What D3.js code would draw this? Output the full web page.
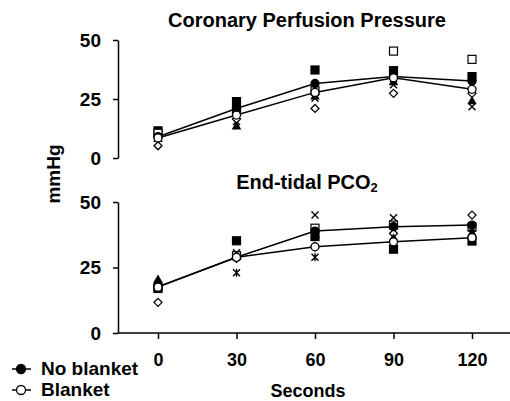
<!DOCTYPE html>
<html>
<head>
<meta charset="utf-8">
<script src="https://cdnjs.cloudflare.com/ajax/libs/d3/7.8.5/d3.min.js"></script>
<style>
body { margin: 0; background: #fff; }
text { font-family: "Liberation Sans", Arial, sans-serif; font-weight: bold; fill: #000; }
.axis path, .axis line { stroke: #000; stroke-width: 1.5px; }
.axis text { font-size: 18px; font-family: "Liberation Sans", Arial, sans-serif; font-weight: bold; }
</style>
</head>
<body>
<svg id="chart" width="510" height="401"></svg>
<script>
// time points (seconds)
var seconds = [0, 30, 60, 90, 120];
var yTicks = [0, 25, 50];

// Coronary perfusion pressure (mmHg)
var cppNoBlanket = [9, 21, 31.6, 34.5, 32.6];
var cppBlanket   = [8.5, 18.2, 27.8, 34, 29.1];
var cppIndividuals = [
  {shape: "squareFilled", values: [11.5, 23.9, 37.3, 37, 34.5]},
  {shape: "squareOpen",   values: [10.5, 20, 28.5, 45.3, 41.8]},
  {shape: "triangle",     values: [8, 13.3, 26, 32, 23.9]},
  {shape: "cross",        values: [9, 15.5, 25.3, 31, 21.7]},
  {shape: "diamond",      values: [5.2, 16.5, 21, 27.4, 27.4]}
];

// End-tidal PCO2 (mmHg)
var etNoBlanket = [17.7, 28.9, 38.9, 40.6, 41.2];
var etBlanket   = [17.5, 28.9, 32.9, 34.8, 36.4];
var etIndividuals = [
  {shape: "squareFilled", values: [17, 35.2, 36.8, 32, 35.1]},
  {shape: "squareOpen",   values: [17.5, 29.5, 40, 41.2, 40.5]},
  {shape: "cross",        values: [18, 30.6, 45, 44, 40]},
  {shape: "asterisk",     values: [18, 23, 28.9, 37, 38]},
  {shape: "diamond",      values: [11.7, 28.5, 33, 38, 45]},
  {shape: "triangle",     values: [20.2, 29, 37.5, 36, 38]}
];

var svg = d3.select("#chart");
var axisX = 118;

var x = d3.scaleLinear().domain([0, 120]).range([158, 472]);
var yTop = d3.scaleLinear().domain([0, 50]).range([158, 40]);
var yBot = d3.scaleLinear().domain([0, 50]).range([333, 202]);

function marker(g, shape, cx, cy) {
  var s;
  if (shape == "squareFilled" || shape == "squareOpen") {
    g.append("rect").attr("x", cx - 4).attr("y", cy - 4).attr("width", 8).attr("height", 8)
      .attr("fill", shape == "squareFilled" ? "#000" : "#fff").attr("stroke", "#000").attr("stroke-width", 1.2);
  } else if (shape == "triangle") {
    s = d3.symbol().type(d3.symbolTriangle).size(40);
    g.append("path").attr("d", s()).attr("transform", "translate(" + cx + "," + cy + ")").attr("fill", "#000");
  } else if (shape == "diamond") {
    g.append("path").attr("d", "M0,-4L4,0L0,4L-4,0Z").attr("transform", "translate(" + cx + "," + cy + ")")
      .attr("fill", "#fff").attr("stroke", "#000").attr("stroke-width", 1.3);
  } else if (shape == "cross") {
    g.append("path").attr("d", "M-3.5,-3.5L3.5,3.5M-3.5,3.5L3.5,-3.5").attr("transform", "translate(" + cx + "," + cy + ")")
      .attr("stroke", "#000").attr("stroke-width", 1.4);
  } else if (shape == "asterisk") {
    g.append("path").attr("d", "M-3.5,-3.5L3.5,3.5M-3.5,3.5L3.5,-3.5M0,-4L0,4").attr("transform", "translate(" + cx + "," + cy + ")")
      .attr("stroke", "#000").attr("stroke-width", 1.4);
  }
}

function panel(y, noBlanket, blanket, individuals, title, sub) {
  var g = svg.append("g");

  individuals.forEach(function(ind) {
    ind.values.forEach(function(v, i) { marker(g, ind.shape, x(seconds[i]), y(v)); });
  });

  var line = d3.line().x(function(d, i) { return x(seconds[i]); }).y(function(d) { return y(d); });
  [noBlanket, blanket].forEach(function(series, k) {
    g.append("path").attr("d", line(series)).attr("fill", "none").attr("stroke", "#000").attr("stroke-width", 1.5);
    g.selectAll(null).data(series).enter().append("circle")
      .attr("cx", function(d, i) { return x(seconds[i]); })
      .attr("cy", function(d) { return y(d); })
      .attr("r", 4)
      .attr("fill", k == 0 ? "#000" : "#fff")
      .attr("stroke", "#000").attr("stroke-width", 1.3);
  });

  var ax = svg.append("g").attr("class", "axis").attr("transform", "translate(" + axisX + ",0)")
    .call(d3.axisLeft(y).tickValues(yTicks).tickSize(5).tickSizeOuter(0).tickPadding(12));
  ax.selectAll("text").style("font-size", "19px");

  var t = svg.append("text").attr("x", 307).attr("y", y.range()[1] - 13)
    .attr("text-anchor", "middle").style("font-size", "20px").text(title);
  if (sub) t.append("tspan").attr("dy", 3).style("font-size", "13px").text(sub);
}

panel(yTop, cppNoBlanket, cppBlanket, cppIndividuals, "Coronary Perfusion Pressure");
panel(yBot, etNoBlanket, etBlanket, etIndividuals, "End-tidal PCO", "2");

// x axis (bottom panel)
var xa = svg.append("g").attr("class", "axis").attr("transform", "translate(0," + yBot(0) + ")")
  .call(d3.axisBottom(x).tickValues(seconds).tickSize(6).tickPadding(14));
xa.select(".domain").remove();
svg.append("line").attr("x1", axisX).attr("x2", 510).attr("y1", yBot(0)).attr("y2", yBot(0))
  .attr("stroke", "#000").attr("stroke-width", 1.5);

svg.append("text").attr("x", 308).attr("y", 397).attr("text-anchor", "middle")
  .style("font-size", "18px").text("Seconds");

svg.append("text").attr("transform", "translate(60,174) rotate(-90)").attr("text-anchor", "middle")
  .style("font-size", "19px").text("mmHg");

// legend
var legend = [{name: "No blanket", fill: "#000"}, {name: "Blanket", fill: "#fff"}];
legend.forEach(function(d, i) {
  var ly = 369 + i * 21;
  svg.append("line").attr("x1", 12).attr("x2", 31).attr("y1", ly).attr("y2", ly)
    .attr("stroke", "#000").attr("stroke-width", 1.5);
  svg.append("circle").attr("cx", 21).attr("cy", ly).attr("r", 4.5)
    .attr("fill", d.fill).attr("stroke", "#000").attr("stroke-width", 1.3);
  svg.append("text").attr("x", 41).attr("y", ly + 6).style("font-size", "19px").text(d.name);
});
</script>
</body>
</html>
